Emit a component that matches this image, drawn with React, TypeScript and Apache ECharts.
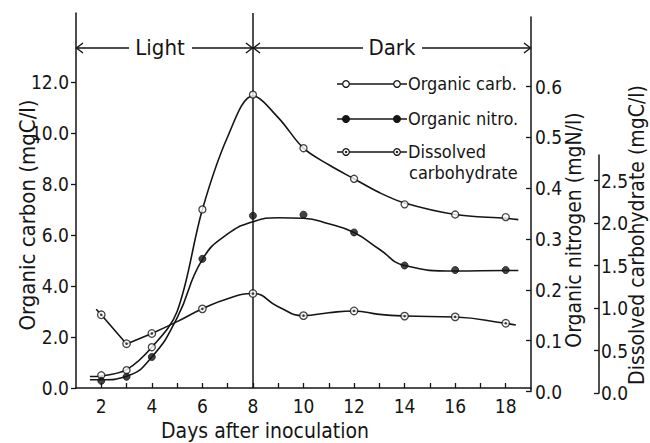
import React, { useEffect, useRef } from "react";
import * as echarts from "echarts";

// ---- measured points ----
const days = [2, 3, 4, 6, 8, 10, 12, 14, 16, 18];
const organicCarbon = [0.5, 0.7, 1.6, 7.0, 11.5, 9.4, 8.2, 7.2, 6.8, 6.7]; // mgC/l
const organicNitrogen = [0.021, 0.029, 0.068, 0.261, 0.346, 0.348, 0.313, 0.248, 0.239, 0.239]; // mgN/l
const dissolvedCarb = [0.92, 0.58, 0.7, 0.99, 1.17, 0.91, 0.965, 0.905, 0.895, 0.82]; // mgC/l

// ---- hand-drawn fitted curves ----
const carbonCurveDays = [1.55, 2, 3, 4, 5, 6, 7, 8, 9, 10, 11, 12, 13, 14, 16, 18, 18.5];
const carbonCurve = [0.45, 0.47, 0.72, 1.6, 3.0, 7.0, 9.85, 11.45, 10.6, 9.4, 8.75, 8.2, 7.66, 7.25, 6.8, 6.65, 6.6];
const nitrogenCurveDays = [1.55, 2, 3, 4, 5, 6, 7, 8, 9, 10, 11, 12, 13, 14, 16, 18, 18.5];
const nitrogenCurve = [0.023, 0.023, 0.03, 0.068, 0.145, 0.26, 0.31, 0.334, 0.342, 0.341, 0.33, 0.313, 0.28, 0.248, 0.237, 0.238, 0.238];
const carbCurveDaysA = [1.8, 2, 3, 4];
const carbCurveA = [0.985, 0.92, 0.576, 0.7];
const carbCurveDaysB = [4, 5, 6, 7, 8, 9, 10, 11, 12, 13, 14, 16, 18, 18.4];
const carbCurveB = [0.7, 0.84, 0.99, 1.11, 1.17, 1.015, 0.91, 0.945, 0.965, 0.925, 0.906, 0.894, 0.82, 0.8];

// ---- ticks ----
const dayTicks = [2, 3, 4, 5, 6, 7, 8, 9, 10, 11, 12, 13, 14, 15, 16, 17, 18];
const dayLabels = [2, 4, 6, 8, 10, 12, 14, 16, 18];
const carbonTicks = [0, 2, 4, 6, 8, 10, 12];
const nitrogenTicks = [0, 0.1, 0.2, 0.3, 0.4, 0.5, 0.6];
const carbTicks = [0, 0.5, 1.0, 1.5, 2.0, 2.5];
const lightDarkSplit = 8;

const FONT = "'Liberation Sans Narrow', 'Arial Narrow', 'DejaVu Sans Condensed', 'Liberation Sans', sans-serif";
const INK = "#151515";

const zip = (xs: number[], ys: number[]) => xs.map((x, i) => [x, ys[i]]);

export default function App() {
  const ref = useRef<HTMLDivElement>(null);
  useEffect(() => {
    document.body.style.margin = "0";
    if (!ref.current) return;
    const chart = echarts.init(ref.current, undefined, { renderer: "svg" });
    const L = 76;
    const Rr = 531;
    const W = Rr - L;
    const axisBase = {
      type: "value" as const,
      min: 1,
      max: 19,
      splitLine: { show: false },
    };
    const yCommon = (ticks: number[]) => ({
      type: "value" as const,
      splitLine: { show: false },
      axisLine: { show: true, lineStyle: { color: INK, width: 1.5 } },
      axisTick: { show: true, length: 5, customValues: ticks, lineStyle: { color: INK, width: 1.3 } },
      axisLabel: {
        customValues: ticks,
        formatter: (v: number) => v.toFixed(1),
        color: INK,
        fontSize: 19,
        fontFamily: FONT,
      },
    });
    const y0 = yCommon(carbonTicks);
    const y1 = yCommon(nitrogenTicks);
    const y2 = yCommon(carbTicks);
    const option: any = {
      animation: false,
      backgroundColor: "#ffffff",
      grid: [
        { left: L, width: W, top: 13, height: 375 },
        { left: L, width: W, top: 17, height: 374.5 },
        { left: L, width: W, top: 155, height: 238 },
      ],
      xAxis: [
        {
          ...axisBase,
          gridIndex: 0,
          interval: 1,
          axisLine: { show: true, lineStyle: { color: INK, width: 1.5 } },
          axisTick: { show: true, inside: true, length: 5, customValues: dayTicks, lineStyle: { color: INK, width: 1.3 } },
          axisLabel: { customValues: dayLabels, color: INK, fontSize: 19, fontFamily: FONT, margin: 8 },
        },
        { ...axisBase, gridIndex: 1, show: false },
        { ...axisBase, gridIndex: 2, show: false },
      ],
      yAxis: [
        { ...y0, gridIndex: 0, position: "left", min: 0, max: 14.7, interval: 2,
          axisTick: { ...y0.axisTick, inside: false },
          axisLabel: { ...y0.axisLabel, margin: 7 } },
        { ...y1, gridIndex: 1, position: "right", min: 0, max: 0.737, interval: 0.1,
          axisTick: { ...y1.axisTick, inside: true },
          axisLabel: { ...y1.axisLabel, margin: 4 } },
        { ...y2, gridIndex: 2, position: "right", offset: 68, min: 0, max: 2.8, interval: 0.5,
          axisTick: { ...y2.axisTick, inside: true },
          axisLabel: { ...y2.axisLabel, margin: 2 } },
      ],
      series: [
        {
          name: "Organic carb. curve",
          type: "line",
          xAxisIndex: 0,
          yAxisIndex: 0,
          data: zip(carbonCurveDays, carbonCurve),
          smooth: 0.35,
          showSymbol: false,
          lineStyle: { color: INK, width: 1.6 },
          silent: true,
          markLine: {
            silent: true,
            symbol: ["none", "none"],
            label: { show: false },
            lineStyle: { color: INK, width: 1.5, type: "solid" },
            data: [{ xAxis: lightDarkSplit }],
          },
        },
        {
          name: "Organic nitro. curve",
          type: "line",
          xAxisIndex: 1,
          yAxisIndex: 1,
          data: zip(nitrogenCurveDays, nitrogenCurve),
          smooth: 0.5,
          showSymbol: false,
          lineStyle: { color: INK, width: 1.6 },
          silent: true,
        },
        {
          name: "Dissolved carbohydrate curve A",
          type: "line",
          xAxisIndex: 2,
          yAxisIndex: 2,
          data: zip(carbCurveDaysA, carbCurveA),
          smooth: false,
          showSymbol: false,
          lineStyle: { color: INK, width: 1.6 },
          silent: true,
        },
        {
          name: "Dissolved carbohydrate curve B",
          type: "line",
          xAxisIndex: 2,
          yAxisIndex: 2,
          data: zip(carbCurveDaysB, carbCurveB),
          smooth: 0.5,
          showSymbol: false,
          lineStyle: { color: INK, width: 1.6 },
          silent: true,
        },
        {
          name: "Organic carb.",
          type: "scatter",
          xAxisIndex: 0,
          yAxisIndex: 0,
          data: zip(days, organicCarbon),
          symbol: "circle",
          symbolSize: 7,
          itemStyle: { color: "#ffffff", borderColor: INK, borderWidth: 1.3 },
          z: 5,
        },
        {
          name: "Organic nitro.",
          type: "scatter",
          xAxisIndex: 1,
          yAxisIndex: 1,
          data: zip(days, organicNitrogen),
          symbol: "circle",
          symbolSize: 7,
          itemStyle: { color: INK, borderColor: INK, borderWidth: 1 },
          z: 5,
        },
        {
          name: "Dissolved carbohydrate",
          type: "scatter",
          xAxisIndex: 2,
          yAxisIndex: 2,
          data: zip(days, dissolvedCarb),
          symbol: "circle",
          symbolSize: 7.5,
          itemStyle: { color: "#ffffff", borderColor: INK, borderWidth: 1.3 },
          z: 5,
        },
        {
          name: "Dissolved carbohydrate dot",
          type: "scatter",
          xAxisIndex: 2,
          yAxisIndex: 2,
          data: zip(days, dissolvedCarb),
          symbol: "circle",
          symbolSize: 2.6,
          itemStyle: { color: INK },
          z: 6,
        },
      ],
    };
    chart.setOption(option);

    // annotations placed through the axes
    const px = (d: number) => (chart.convertToPixel({ gridIndex: 0 }, [d, 0]) as number[])[0];
    const x1 = px(1);
    const x8 = px(lightDarkSplit);
    const x19 = px(19);
    const ay = 48;
    const line = (a: number, b: number) => ({
      type: "line", shape: { x1: a, y1: ay, x2: b, y2: ay }, style: { stroke: INK, lineWidth: 1.4 }, silent: true,
    });
    const headL = (x: number) => ({
      type: "polyline", shape: { points: [[x + 7, ay - 5], [x + 0.5, ay], [x + 7, ay + 5]] },
      style: { stroke: INK, lineWidth: 1.4, fill: "none" }, silent: true,
    });
    const headR = (x: number) => ({
      type: "polyline", shape: { points: [[x - 7, ay - 5], [x - 0.5, ay], [x - 7, ay + 5]] },
      style: { stroke: INK, lineWidth: 1.4, fill: "none" }, silent: true,
    });
    const txt = (text: string, x: number, y: number, size: number, rot = 0, align = "center") => ({
      type: "text",
      x,
      y,
      rotation: rot,
      silent: true,
      style: {
        text,
        fill: INK,
        fontSize: size,
        fontFamily: FONT,
        textAlign: align,
        textVerticalAlign: "middle",
        align,
        verticalAlign: "middle",
      },
    });
    const lightC = x1 + 0.475 * (x8 - x1);
    const darkC = x8 + 0.5 * (x19 - x8);
    const legendRows = [
      { y: 84, kind: "open" },
      { y: 119, kind: "filled" },
      { y: 152, kind: "dotted" },
    ];
    const legendEls: any[] = [];
    legendRows.forEach((r) => {
      legendEls.push({ type: "line", shape: { x1: 337, y1: r.y, x2: 407, y2: r.y }, style: { stroke: INK, lineWidth: 1.4 }, silent: true });
      [346, 397].forEach((cx) => {
        legendEls.push({
          type: "circle", shape: { cx, cy: r.y, r: r.kind === "filled" ? 3.4 : 3.3 },
          style: { fill: r.kind === "filled" ? INK : "#ffffff", stroke: INK, lineWidth: 1.2 }, silent: true, z: 10,
        });
        if (r.kind === "dotted") {
          legendEls.push({ type: "circle", shape: { cx, cy: r.y, r: 1.2 }, style: { fill: INK }, silent: true, z: 11 });
        }
      });
    });
    chart.setOption({
      graphic: [
        headL(x1), line(x1, lightC - 31), txt("Light", lightC, ay - 1, 22), line(lightC + 32, x8), headR(x8),
        headL(x8), line(x8, darkC - 29), txt("Dark", darkC, ay - 1, 22), line(darkC + 30, x19), headR(x19),
        ...legendEls,
        txt("Organic carb.", 408, 83, 18, 0, "left"),
        txt("Organic nitro.", 408, 118, 18, 0, "left"),
        txt("Dissolved", 408, 151, 18, 0, "left"),
        txt("carbohydrate", 409, 172, 18, 0, "left"),
        txt("Organic carbon (mgC/l)", 27, 215, 22, Math.PI / 2),
        txt("Days after inoculation", 265, 431, 21),
        txt("Organic nitrogen (mgN/l)", 574, 230, 21, Math.PI / 2),
        txt("Dissolved carbohydrate (mgC/l)", 637, 235, 21, Math.PI / 2),
      ],
    });
    return () => chart.dispose();
  }, []);
  return <div ref={ref} style={{ width: 650, height: 443 }} />;
}
